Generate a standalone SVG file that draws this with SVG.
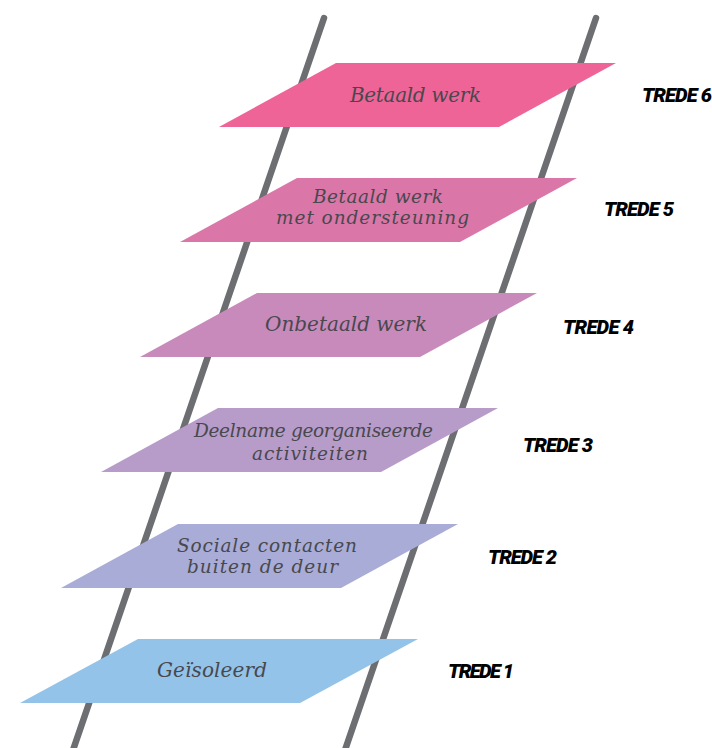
<svg xmlns="http://www.w3.org/2000/svg" width="712" height="748" viewBox="0 0 712 748">
<style>
.rail{stroke:#6d6e71;stroke-width:6.5;stroke-linecap:round;fill:none}
.lbl{font-family:"DejaVu Serif","Liberation Serif",serif;font-style:italic;font-size:20px;fill:#48484e;text-anchor:middle}
.sm{font-size:18.5px}
.tr{font-family:Roboto,"Liberation Sans",sans-serif;font-style:italic;font-weight:900;font-size:20px;fill:#000}
</style>
<rect width="712" height="748" fill="#fff"/>
<g id="rails">
<line class="rail" x1="324" y1="18" x2="69.6" y2="760"/>
<line class="rail" x1="596" y1="18" x2="341.6" y2="760"/>
</g>
<g id="step6">
<polygon points="336,63 616,63 499,127 219,127" fill="#ee6497"/>
<text class="lbl" x="415.5" y="102" textLength="131">Betaald werk</text>
<text class="tr" x="642" y="102" textLength="70">TREDE 6</text>
</g>
<g id="step5">
<polygon points="297,178 577,178 460,242 180,242" fill="#da77a8"/>
<text class="lbl sm" x="378" y="203" textLength="130">Betaald werk</text>
<text class="lbl sm" x="372.5" y="224" textLength="193">met ondersteuning</text>
<text class="tr" x="604" y="216" textLength="70">TREDE 5</text>
</g>
<g id="step4">
<polygon points="257,293 537,293 420,357 140,357" fill="#c88abb"/>
<text class="lbl" x="346" y="331" textLength="162">Onbetaald werk</text>
<text class="tr" x="563" y="334" textLength="71">TREDE 4</text>
</g>
<g id="step3">
<polygon points="218,408 498,408 381,472 101,472" fill="#b79cc9"/>
<text class="lbl sm" x="313.5" y="437" textLength="239">Deelname georganiseerde</text>
<text class="lbl sm" x="310" y="460" textLength="116">activiteiten</text>
<text class="tr" x="523" y="452" textLength="70">TREDE 3</text>
</g>
<g id="step2">
<polygon points="178,524 458,524 341,588 61,588" fill="#a8acd6"/>
<text class="lbl sm" x="267" y="552" textLength="180">Sociale contacten</text>
<text class="lbl sm" x="262.5" y="573" textLength="151">buiten de deur</text>
<text class="tr" x="488" y="564" textLength="69">TREDE 2</text>
</g>
<g id="step1">
<polygon points="138,639 418,639 300,703 20,703" fill="#93c3e8"/>
<text class="lbl" x="212" y="677" textLength="110">Geïsoleerd</text>
<text class="tr" x="448" y="678" textLength="66">TREDE 1</text>
</g>
</svg>
